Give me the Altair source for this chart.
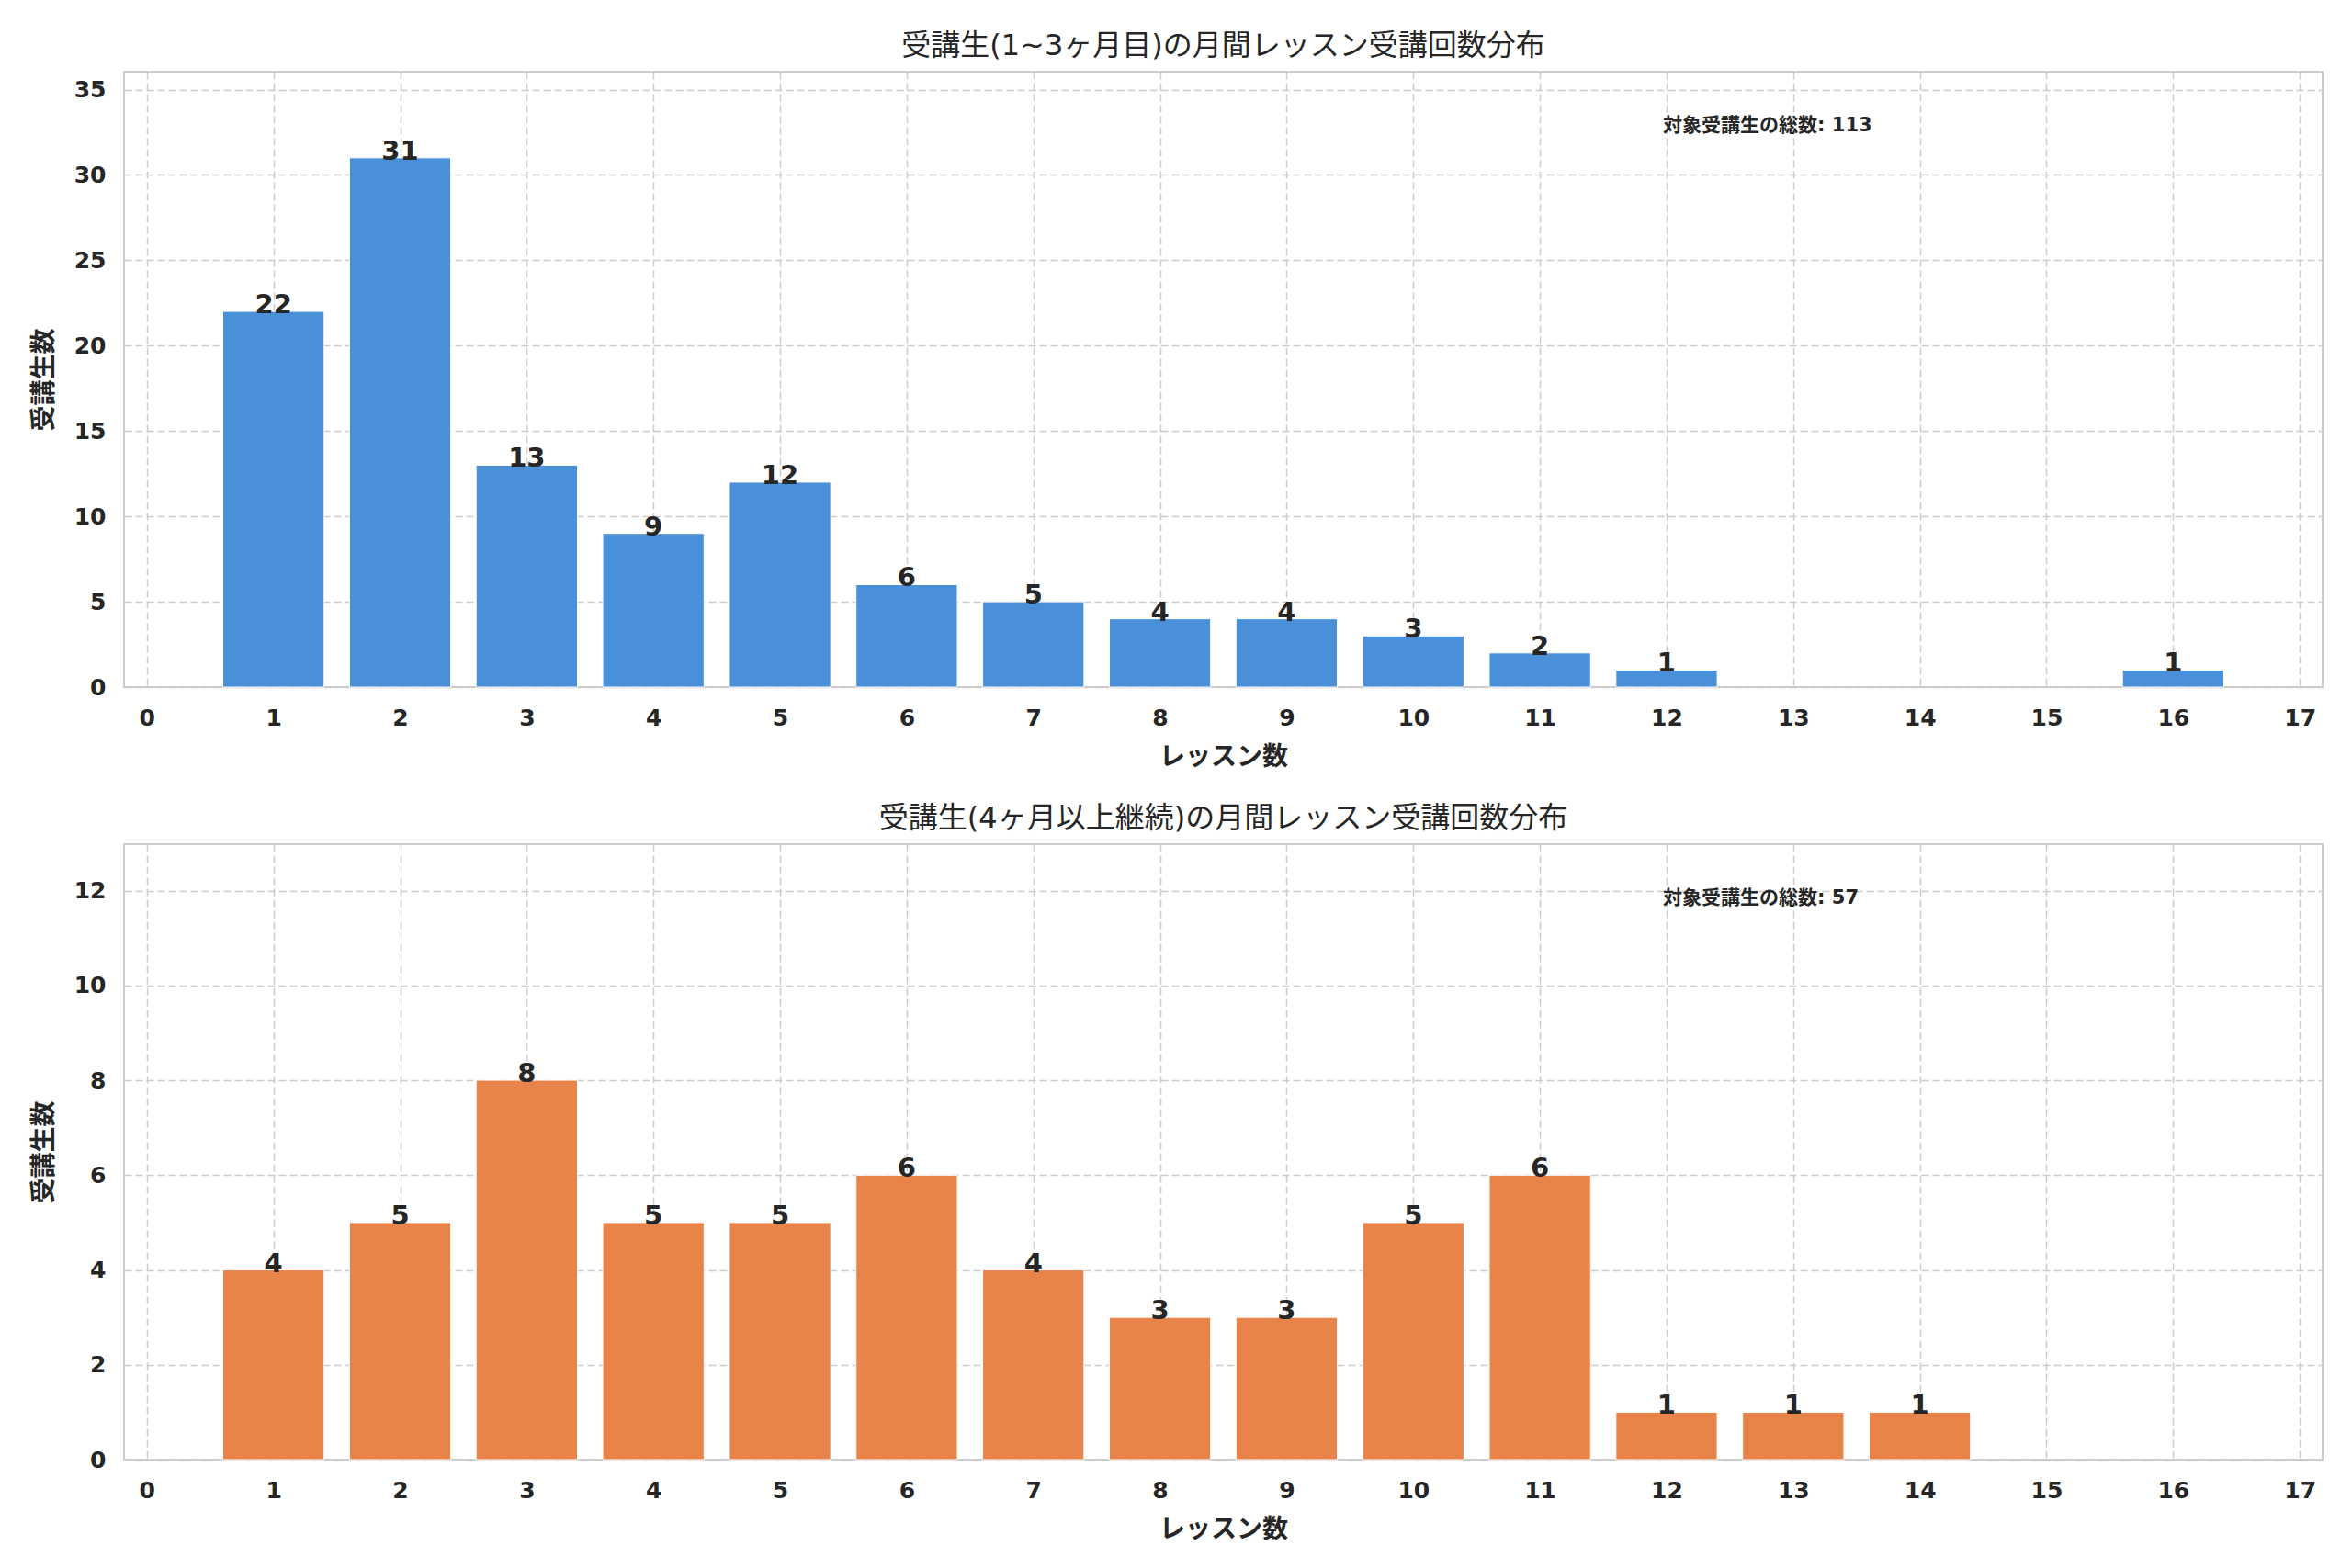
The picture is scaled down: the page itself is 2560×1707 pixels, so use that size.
import altair as alt
import pandas as pd

# ---- data ----
early_counts = list(range(1, 17))
early_users = [22, 31, 13, 9, 12, 6, 5, 4, 4, 3, 2, 1, 0, 0, 0, 1]
late_counts = list(range(1, 15))
late_users = [4, 5, 8, 5, 5, 6, 4, 3, 3, 5, 6, 1, 1, 1]
x_ticks = list(range(0, 18))
early_y_ticks = [0, 5, 10, 15, 20, 25, 30, 35]
late_y_ticks = [0, 2, 4, 6, 8, 10, 12]

early_title = "受講生(1~3ヶ月目)の月間レッスン受講回数分布"
late_title = "受講生(4ヶ月以上継続)の月間レッスン受講回数分布"
x_title = "レッスン数"
y_title = "受講生数"
early_note = "対象受講生の総数: 113"
late_note = "対象受講生の総数: 57"

FONT = "DejaVu Sans, Noto Sans CJK JP"
TXT = "#262626"
W, H = 2393, 670


def panel(xs, ys, color, ymax, yticks, title, note_text):
    df = pd.DataFrame({"k": xs, "n": ys})
    base = alt.Chart(df).transform_filter("datum.n > 0").transform_calculate(
        lo="datum.k - 0.4", hi="datum.k + 0.4", z="0"
    )
    xscale = alt.Scale(domain=[-0.18, 17.18], nice=False, zero=False)
    yscale = alt.Scale(domain=[0, ymax], nice=False, zero=True)
    xaxis = alt.Axis(values=x_ticks, format="d", title=x_title, labelPadding=21, titlePadding=16)
    yaxis = alt.Axis(values=yticks, format="d", title=y_title, labelPadding=20, titlePadding=18)
    bars = base.mark_bar(color=color, stroke="white", strokeWidth=1).encode(
        x=alt.X("lo:Q", scale=xscale, axis=xaxis),
        x2="hi:Q",
        y=alt.Y("n:Q", scale=yscale, axis=yaxis),
        y2="z:Q",
    )
    labels = base.mark_text(
        font=FONT, fontSize=29, fontWeight="bold", color=TXT,
        baseline="alphabetic", align="center", dy=2,
    ).encode(
        x=alt.X("k:Q", scale=xscale, axis=xaxis),
        y=alt.Y("n:Q", scale=yscale, axis=yaxis),
        text="n:Q",
    )
    note = alt.Chart(pd.DataFrame({"t": [note_text]})).mark_text(
        font=FONT, fontSize=21, fontWeight="bold", color=TXT,
        align="left", baseline="middle",
    ).encode(x=alt.value(0.70 * W), y=alt.value(0.088 * H), text="t:N")
    return alt.layer(bars, labels, note).properties(
        width=W, height=H,
        title=alt.TitleParams(title, font=FONT, fontSize=32, fontWeight="normal",
                              color=TXT, offset=11, anchor="middle"),
    )


top = panel(early_counts, early_users, "#4A90D9", 36.05, early_y_ticks, early_title, early_note)
bottom = panel(late_counts, late_users, "#E8844A", 12.98, late_y_ticks, late_title, late_note)

chart = alt.vconcat(top, bottom, spacing=35).properties(
    padding={"left": 25, "top": 25, "right": 5, "bottom": 5},
    background="white",
).configure_view(
    stroke="#cccccc", strokeWidth=2
).configure_axis(
    grid=True, gridDash=[8, 4], gridColor="#cccccc", gridWidth=1.5,
    ticks=False, domain=False,
    labelFont=FONT, labelFontSize=25, labelFontWeight="bold", labelColor=TXT,
    titleFont=FONT, titleFontSize=28, titleFontWeight="bold", titleColor=TXT,
)

chart.save("out.html", embed_options={"renderer": "svg", "actions": False})
